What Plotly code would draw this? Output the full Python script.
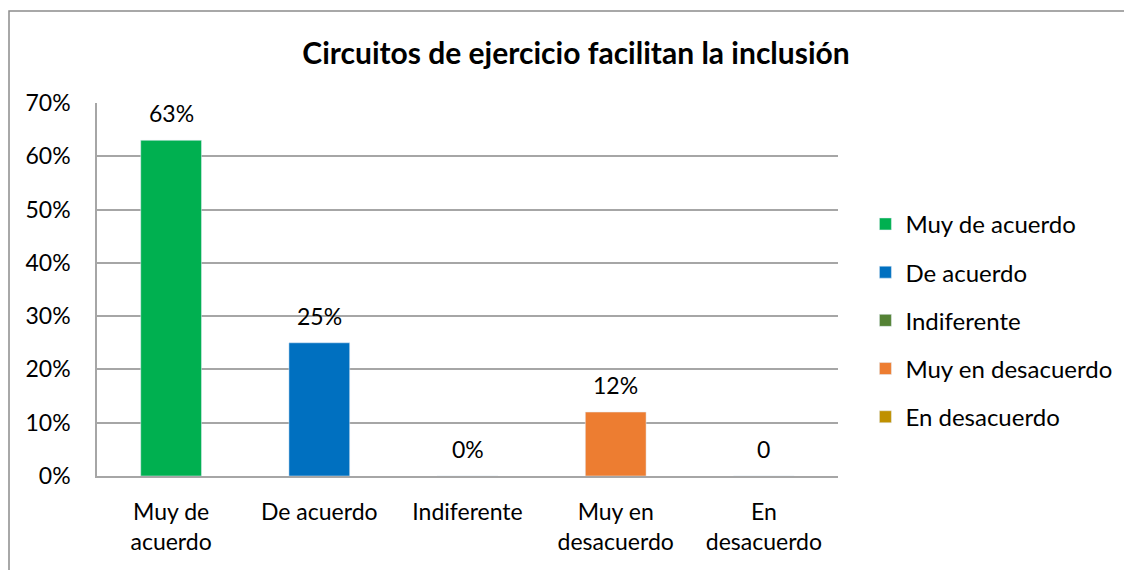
import plotly.graph_objects as go

# survey answers, share of respondents
categories = ['Muy de acuerdo', 'De acuerdo', 'Indiferente', 'Muy en desacuerdo', 'En desacuerdo']
tick_text = ['Muy de<br>acuerdo', 'De acuerdo', 'Indiferente', 'Muy en<br>desacuerdo', 'En<br>desacuerdo']
values = [0.63, 0.25, 0.0, 0.12, 0.0]
labels = ['63%', '25%', '0%', '12%', '0']
colors = ['#00B050', '#0070C0', '#548235', '#ED7D31', '#BF9000']

FONT = 'Lato, Carlito, Calibri, sans-serif'

fig = go.Figure()
for cat, val, col in zip(categories, values, colors):
    fig.add_trace(go.Bar(x=[cat], y=[val], name=cat, marker_color=col,
                         legendgroup=cat, hoverinfo='skip'))

# data labels sit a fixed distance above each bar
for cat, val, lab in zip(categories, values, labels):
    fig.add_annotation(x=cat, y=val, text=lab, showarrow=False,
                       yshift=27, font=dict(size=23, color='#000000', family=FONT))

# page has an 8px body margin, so the figure is 8px smaller than the window
fig.update_layout(
    width=1124, height=562,
    margin=dict(l=89, r=294, t=95, b=94),
    paper_bgcolor='white', plot_bgcolor='white',
    barmode='overlay', bargap=0.59,
    font=dict(family=FONT, size=23, color='#000000'),
    title=dict(text='<b>Circuitos de ejercicio facilitan la inclusión</b>',
               x=568 / 1124, xref='container', y=1 - 45 / 562, yref='container',
               xanchor='center', yanchor='middle',
               font=dict(size=30, family=FONT, color='#000000')),
    legend=dict(x=1.037, y=0.735, xanchor='left', yanchor='top',
                font=dict(size=24, family=FONT), tracegroupgap=14,
                itemwidth=30, bgcolor='rgba(0,0,0,0)', borderwidth=0),
    showlegend=True,
)
fig.update_xaxes(tickmode='array', tickvals=categories, ticktext=tick_text,
                 showline=True, linecolor='#a6a6a6', linewidth=1.5,
                 ticks='outside', ticklen=15, tickcolor='rgba(0,0,0,0)',
                 tickfont=dict(size=23))
fig.update_yaxes(range=[0, 0.7], dtick=0.1, tickformat='.0%',
                 showgrid=True, gridcolor='#a6a6a6', gridwidth=1.5,
                 showline=True, linecolor='#a6a6a6', linewidth=1.5,
                 ticks='outside', ticklen=20, tickcolor='rgba(0,0,0,0)',
                 tickfont=dict(size=23), zeroline=False)

# chart border (right and bottom edges fall outside the picture)
fig.add_shape(type='rect', xref='paper', yref='paper',
              x0=(1 - 89) / 741, x1=1.6,
              y0=-0.3, y1=(468 - 3) / 373,
              line=dict(color='#8c8c8c', width=1.5), fillcolor='rgba(0,0,0,0)')

fig.write_html('out.html')
